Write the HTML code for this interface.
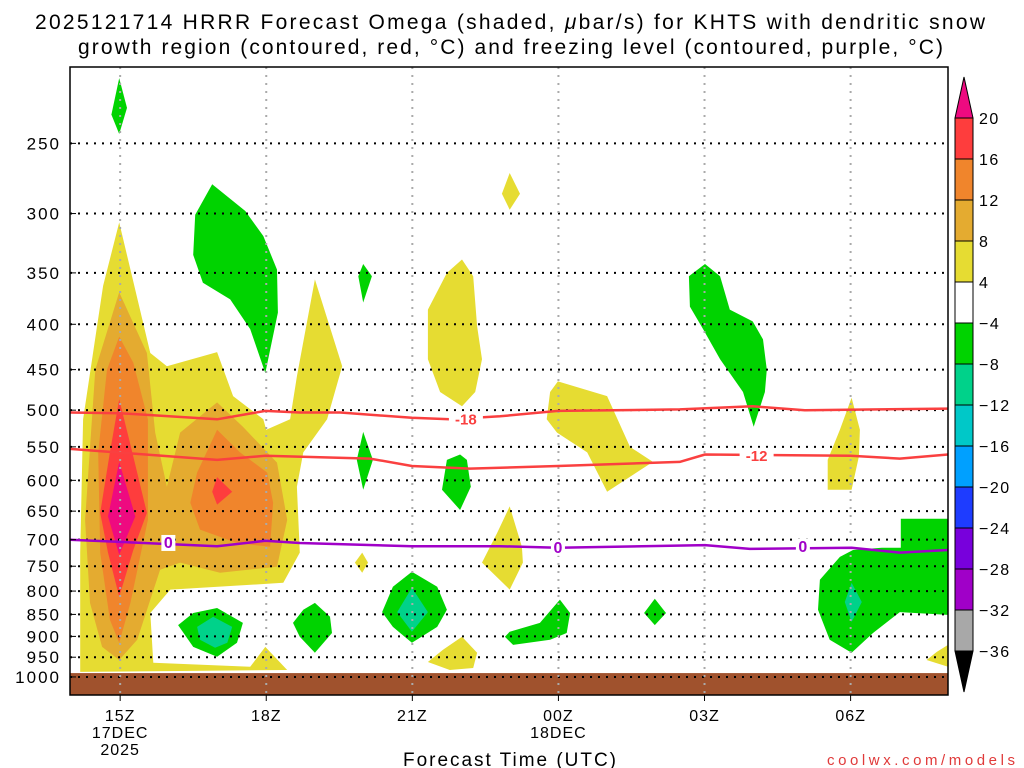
<!DOCTYPE html>
<html><head><meta charset="utf-8">
<style>
html,body{margin:0;padding:0;background:#fff;}
svg{display:block;font-family:"Liberation Sans","DejaVu Sans",sans-serif;}
</style></head>
<body>
<svg id="chart" width="1024" height="768" viewBox="0 0 1024 768">
<text x="35" y="29" textLength="950" lengthAdjust="spacing" font-size="21">2025121714 HRRR Forecast Omega (shaded, <tspan font-style="italic">μ</tspan>bar/s) for KHTS with dendritic snow</text>
<text x="78" y="54" textLength="865" lengthAdjust="spacing" font-size="21">growth region (contoured, red, °C) and freezing level (contoured, purple, °C)</text>
<g id="shades"></g>
<g id="grid"></g>
<g id="lines"></g>
<rect x="70" y="67" width="878" height="628" fill="none" stroke="#000" stroke-width="1.5"/>
<g id="axes"></g>
<g id="cbar"></g>
<text x="403" y="766" textLength="213" lengthAdjust="spacing" font-size="19">Forecast Time (UTC)</text>
<text x="827" y="765" textLength="188" lengthAdjust="spacing" font-size="15" fill="#e03a3a">coolwx.com/models</text>
</svg>
<script>
// ---------- data ----------
const pressureTicks = [250,300,350,400,450,500,550,600,650,700,750,800,850,900,950,1000];
const timeTicks = [0,3,6,9,12,15];
const timeLabels = ["15Z","18Z","21Z","00Z","03Z","06Z"];
const dateLabels = [[0,"17DEC"],[0,"2025"],[9,"18DEC"]];
const cbarLevels = [20,16,12,8,4,-4,-8,-12,-16,-20,-24,-28,-32,-36];
const cbarColors = ["#fe3d3d","#f0852c","#e4ab30","#e6dc32","#ffffff","#00d300","#00d28a","#00c8c8","#00a0ff","#1e3cff","#7800dc","#a000c8","#a8a8a8"];
const groundTop = 990;

const shadeYellow = [
 [[-0.02,307],[0.62,431],[0.96,446],[1.99,430],[2.32,482],[2.94,512],[3.0,526],[3.49,512],[3.63,458],[4.0,356],[4.56,446],[4.25,512],[3.76,558],[3.63,610],[3.69,724],[3.35,783],[1.03,797],[0.62,847],[0.68,964],[2.67,974],[2.98,925],[3.43,982],[-0.82,987],[-0.82,724],[-0.76,512],[-0.35,362]],
 [[4.97,724],[5.09,743],[4.97,763],[4.82,743]],
 [[8.0,270],[8.21,285],[8.0,297],[7.84,285]],
 [[7.02,338],[7.25,353],[7.33,402],[7.43,438],[7.29,477],[7.02,495],[6.57,477],[6.32,438],[6.32,385],[6.71,350]],
 [[8.99,464],[10.0,482],[10.47,550],[10.94,572],[10.0,618],[9.59,558],[8.97,530],[8.76,512],[8.83,477]],
 [[8.0,642],[8.25,713],[8.27,743],[8.0,797],[7.43,743],[7.74,688]],
 [[7.02,901],[7.33,939],[7.25,977],[6.77,982],[6.32,962],[6.63,932]],
 [[15.02,484],[15.19,526],[15.17,564],[15.02,615],[14.53,615],[14.53,569],[14.78,526]],
 [[17.0,920],[17.0,974],[16.56,957],[16.77,937]]
];
const shadeOrange8 = [
 [[-0.02,368],[0.55,431],[0.72,530],[0.96,610],[1.23,530],[1.99,490],[2.52,522],[3.22,573],[3.43,665],[3.22,751],[2.05,763],[1.23,743],[0.82,757],[0.35,908],[-0.02,957],[-0.37,925],[-0.62,825],[-0.72,665],[-0.51,450]]
];
const shadeOrange12 = [
 [[-0.02,413],[0.27,442],[0.57,512],[0.57,665],[0.21,825],[-0.02,915],[-0.21,862],[-0.41,724],[-0.45,558],[-0.27,450]],
 [[1.99,526],[2.46,558],[3.02,588],[3.14,636],[3.08,713],[2.40,706],[1.64,682],[1.44,636],[1.58,588]]
];
const shadeRed = [
 [[-0.02,486],[0.25,558],[0.55,653],[0.27,719],[-0.02,812],[-0.25,724],[-0.41,653],[-0.21,558]],
 [[1.99,595],[2.30,618],[1.99,639],[1.89,618]]
];
const shadeMagenta = [
 [[-0.02,572],[0.31,659],[-0.02,728],[-0.25,659]]
];
const shadeGreen = [
 [[-0.02,211],[0.14,228],[-0.02,244],[-0.18,232]],
 [[1.89,278],[2.57,298],[2.94,318],[3.22,347],[3.24,388],[2.98,454],[2.67,405],[2.26,375],[1.70,359],[1.50,334],[1.54,301]],
 [[4.99,342],[5.17,353],[4.99,378],[4.89,353]],
 [[4.99,529],[5.19,569],[4.99,615],[4.86,569]],
 [[1.99,836],[2.52,869],[2.40,915],[1.99,949],[1.50,925],[1.19,874],[1.50,847]],
 [[4.0,825],[4.31,855],[4.35,892],[4.0,939],[3.69,901],[3.55,869],[3.76,840]],
 [[6.98,561],[7.12,569],[7.20,610],[6.98,648],[6.61,615],[6.71,569]],
 [[5.99,761],[6.51,791],[6.71,840],[6.51,878],[5.99,915],[5.60,878],[5.38,845],[5.60,791]],
 [[9.03,818],[9.24,847],[9.17,892],[8.83,908],[8.07,920],[7.90,901],[8.0,889],[8.62,869]],
 [[10.98,816],[11.21,847],[10.98,874],[10.76,847]],
 [[12.01,342],[12.32,353],[12.52,385],[12.99,397],[13.20,416],[13.28,450],[13.24,477],[13.01,522],[12.79,477],[12.32,438],[11.97,405],[11.70,382],[11.68,353]],
 [[16.03,663],[17.0,663],[17.0,851],[16.01,845],[15.46,892],[15.02,939],[14.57,908],[14.33,840],[14.37,777],[14.78,732],[15.05,719],[15.64,715],[16.03,715]]
];
const shadeTeal = [
 [[1.91,855],[2.30,878],[2.20,915],[1.95,927],[1.64,908],[1.58,878]],
 [[5.99,793],[6.32,845],[5.99,889],[5.69,845]],
 [[15.02,783],[15.23,823],[15.02,867],[14.88,823]]
];
const lineMinus18 = [[-1.03,503],[0,504],[1.99,512],[2.98,501],[3.69,503],[4.52,503],[5.99,510],[6.77,512],[7.80,508],[8.99,501],[11.49,499],[12.99,495],[14.06,500],[17.0,498]];
const lineMinus12 = [[-1.03,553],[1.99,569],[2.98,563],[5.13,567],[5.99,578],[7.18,582],[8.99,578],[11.49,572],[12.01,561],[15.0,563],[16.01,567],[17.0,561]];
const lineFreezing = [[-1.03,700],[0,704],[1.99,712],[2.98,702],[3.69,706],[5.99,712],[7.80,712],[8.99,715],[12.01,710],[12.93,717],[15.02,715],[16.01,724],[17.0,719]];
const labelsRed = [[7.10,512,"-18"],[13.07,563,"-12"]];
const labelsPurple = [[0.99,706,"0"],[8.99,715,"0"],[14.02,713,"0"]];

// ---------- scales ----------
const X0=70, X1=948, Y0=67, Y1=695;
const H0=-1.03, H1=17.0, P0=1048, P1=205;
function X(h){return X0+(h-H0)/(H1-H0)*(X1-X0);}
function Y(p){return Y1+(Math.log(P0)-Math.log(p))/(Math.log(P0)-Math.log(P1))*(Y0-Y1);}
const NS="http://www.w3.org/2000/svg";
function mk(tag,attrs,parent){const e=document.createElementNS(NS,tag);for(const k in attrs)e.setAttribute(k,attrs[k]);parent.appendChild(e);return e;}
const shadesG=document.getElementById('shades'), gridG=document.getElementById('grid'), linesG=document.getElementById('lines'), axesG=document.getElementById('axes'), cbarG=document.getElementById('cbar');
function pts(arr){return arr.map(d=>X(d[0]).toFixed(1)+","+Y(d[1]).toFixed(1)).join(" ");}

function drawSet(set,color,name){
 set.forEach(poly=>{
  const el=mk('polygon',{points:pts(poly),fill:color},shadesG);
  
  
 });
}
drawSet(shadeYellow,"#e6dc32","omega-4-8");
drawSet(shadeOrange8,"#e4ab30","omega-8-12");
drawSet(shadeOrange12,"#f0852c","omega-12-16");
drawSet(shadeRed,"#fe3d3d","omega-16-20");
drawSet(shadeMagenta,"#ee0a80","omega-above-20");
drawSet(shadeGreen,"#00d300","omega-neg4-neg8");
drawSet(shadeTeal,"#00d28a","omega-neg8-neg12");

const groundRect=mk('rect',{x:X0,y:Y(groundTop),width:X1-X0,height:Y1-Y(groundTop),fill:"#a0522d"},shadesG);



pressureTicks.forEach(p=>{
 const l=mk('line',{x1:X0,x2:X1,y1:Y(p),y2:Y(p),stroke:"#000","stroke-width":2,"stroke-dasharray":"2,6"},gridG);
 
 
 const t=mk('text',{x:61,y:Y(p)+6,"text-anchor":"end","font-size":17,"letter-spacing":"2"},axesG);
 t.textContent=p;
 
 
 const tk=mk('line',{x1:X0,x2:X0+6,y1:Y(p),y2:Y(p),stroke:"#000","stroke-width":1},axesG);
 
 
});
timeTicks.forEach((h,i)=>{
 const l=mk('line',{x1:X(h),x2:X(h),y1:Y0,y2:Y1,stroke:"#aaa","stroke-width":2,"stroke-dasharray":"2,6"},gridG);
 
 
 const tk=mk('line',{x1:X(h),x2:X(h),y1:Y1,y2:Y1+6,stroke:"#000","stroke-width":1},axesG);
 
 
 const t=mk('text',{x:X(h),y:721,"text-anchor":"middle","font-size":16,"letter-spacing":"1"},axesG);
 t.textContent=timeLabels[i];
 
 
});
dateLabels.forEach((d,i)=>{
 const row = (i===1)?2:1;
 const t=mk('text',{x:X(d[0]),y:721+row*17,"text-anchor":"middle","font-size":16,"letter-spacing":"1"},axesG);
 t.textContent=d[1];
 
 
});

function drawLine(arr,color,name){
 const el=mk('polyline',{points:pts(arr),fill:"none",stroke:color,"stroke-width":2.5,"stroke-linejoin":"round"},linesG);
 
 
}
drawLine(lineMinus18,"#fa4040","isotherm-minus-18");
drawLine(lineMinus12,"#fa4040","isotherm-minus-12");
drawLine(lineFreezing,"#a000c8","freezing-level-line");
function drawLabels(arr,color,name,fs){
 arr.forEach(d=>{
  const w=d[2].length*10+4;
  const bg=mk('rect',{x:X(d[0])-w/2,y:Y(d[1])-8,width:w,height:16,fill:"#fff"},linesG);
  
  
  const t=mk('text',{x:X(d[0]),y:Y(d[1])+5,"text-anchor":"middle","font-size":fs,"font-weight":"bold",fill:color},linesG);
  t.textContent=d[2];
  
  
 });
}
drawLabels(labelsRed,"#fa4040","isotherm-label",15);
drawLabels(labelsPurple,"#a000c8","freezing-label",16);

const CX=955, CW=18, CT=118, CS=41;
const topArrow=mk('polygon',{points:`${CX},${CT} ${CX+CW},${CT} ${CX+CW/2},${CT-41}`,fill:"#ee0a80",stroke:"#000","stroke-width":1},cbarG);


cbarColors.forEach((c,i)=>{
 const r=mk('rect',{x:CX,y:CT+i*CS,width:CW,height:CS,fill:c,stroke:"#000","stroke-width":1},cbarG);
 
 
});
const botY=CT+cbarColors.length*CS;
const botArrow=mk('polygon',{points:`${CX},${botY} ${CX+CW},${botY} ${CX+CW/2},${botY+41}`,fill:"#000",stroke:"#000","stroke-width":1},cbarG);


cbarLevels.forEach((v,i)=>{
 const t=mk('text',{x:979,y:CT+i*CS+6,"font-size":16,"letter-spacing":"1.5"},cbarG);
 t.textContent=v<0?"\u2212"+Math.abs(v):String(v);
 
 
});
</script>
</body></html>
